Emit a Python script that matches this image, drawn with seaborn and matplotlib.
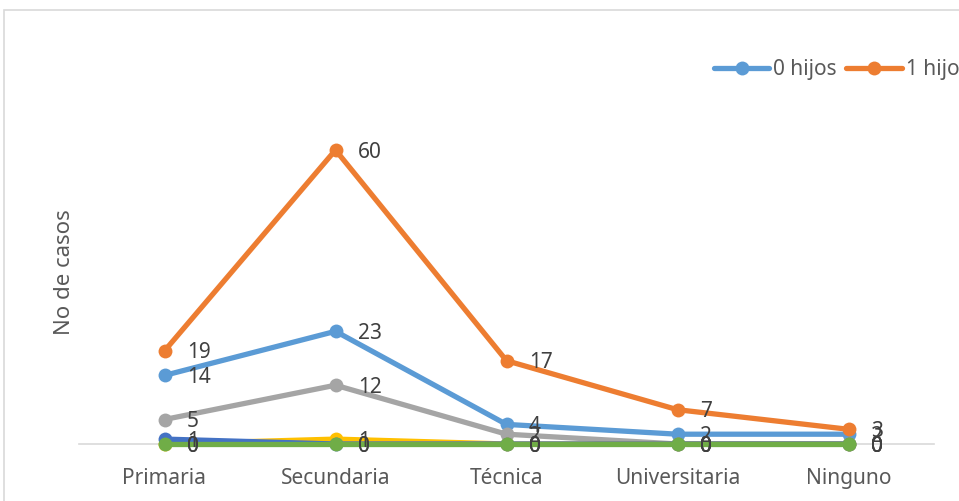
import matplotlib
matplotlib.use("Agg")
import matplotlib.pyplot as plt
import seaborn as sns
import pandas as pd
from matplotlib.patches import Rectangle
from matplotlib.lines import Line2D

categories = ["Primaria", "Secundaria", "Técnica", "Universitaria", "Ninguno"]
series_names = ["0 hijos", "1 hijo", "2 hijos", "3 hijos", "4 hijos", "5 hijos"]
hijos0 = [14, 23, 4, 2, 2]
hijos1 = [19, 60, 17, 7, 3]
hijos2 = [5, 12, 2, 0, 0]
hijos3 = [0, 1, 0, 0, 0]
hijos4 = [1, 0, 0, 0, 0]
hijos5 = [0, 0, 0, 0, 0]
colors = ["#5B9BD5", "#ED7D31", "#A5A5A5", "#FFC000", "#4472C4", "#70AD47"]
y_label = "No de casos"

values = [hijos0, hijos1, hijos2, hijos3, hijos4, hijos5]
rows = []
for name, vals in zip(series_names, values):
    for i, (c, v) in enumerate(zip(categories, vals)):
        rows.append({"cat": c, "pos": i, "val": v, "serie": name})
df = pd.DataFrame(rows)

sns.set_theme(style="white")
plt.rcParams["font.family"] = ["Noto Sans", "DejaVu Sans"]
FS = 15

fig = plt.figure(figsize=(9.59, 5.01), dpi=100)
W, H = 959, 501
ax = fig.add_axes([79 / W, 57 / H, (934 - 79) / W, (444 - 101) / H])

sns.lineplot(data=df, x="pos", y="val", hue="serie", hue_order=series_names,
             palette=colors, marker="o", markersize=10, markeredgewidth=0,
             linewidth=3.8, sort=False, ax=ax, legend=False, clip_on=False)

for name, vals in zip(series_names, values):
    for i, v in enumerate(vals):
        ax.annotate(str(v), (i, v), xytext=(16, -1.5), textcoords="offset points",
                    va="center", ha="left", fontsize=FS, color="#404040",
                    annotation_clip=False)

ax.set_xlim(-0.5, 4.5)
ax.set_ylim(0, 70)
ax.set_xticks(range(len(categories)))
ax.set_xticklabels(categories, fontsize=FS, color="#595959")
ax.tick_params(axis="x", length=0, pad=17)
ax.set_yticks([])
ax.set_xlabel("")
ax.set_ylabel(y_label, fontsize=16, color="#595959", labelpad=3)
for s in ["top", "right", "left"]:
    ax.spines[s].set_visible(False)
ax.spines["bottom"].set_color("#D9D9D9")
ax.spines["bottom"].set_linewidth(1.2)
ax.spines["bottom"].set_zorder(0)

handles = [Line2D([0], [0], color=colors[i], lw=3.8, marker="o", markersize=10,
                  markeredgewidth=0) for i in range(2)]
fig.legend(handles, series_names[:2], loc="center left",
           bbox_to_anchor=(714 / W, 1 - 70 / H), ncol=2, frameon=False,
           fontsize=FS, handlelength=2.65, handletextpad=0.2,
           columnspacing=0.45, labelcolor="#595959", borderaxespad=0, borderpad=0)

fig.patches.append(Rectangle((4 / W, -0.1), 1.2, (1 - 10 / H) + 0.1,
                             transform=fig.transFigure, fill=False,
                             edgecolor="#D9D9D9", linewidth=1.2))

fig.savefig("out.png", dpi=100)
